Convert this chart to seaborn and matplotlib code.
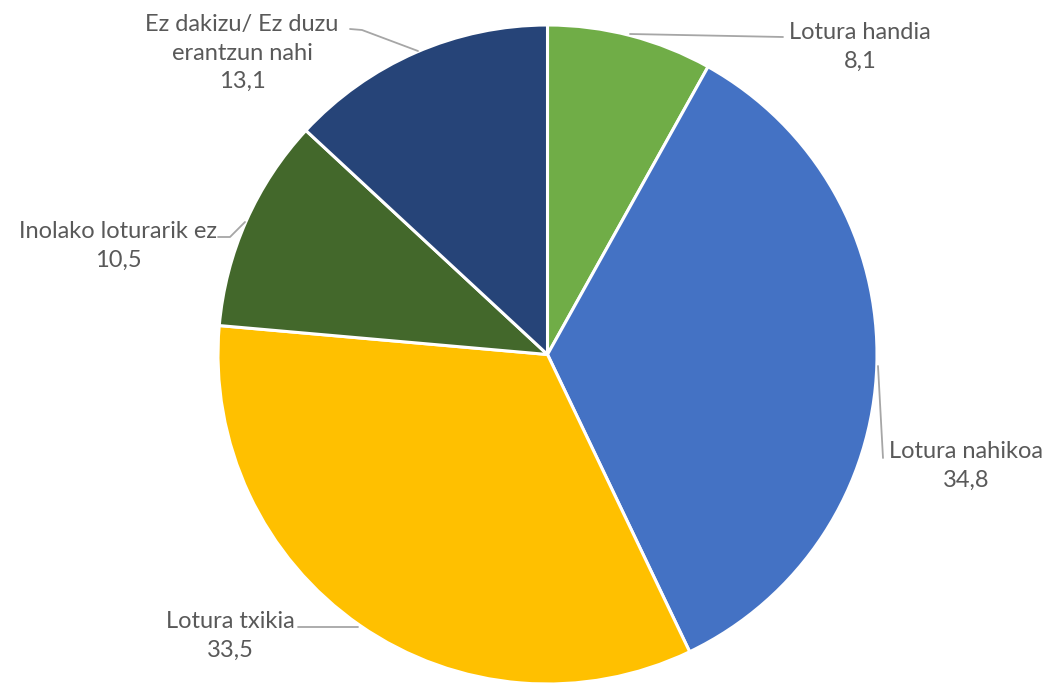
import matplotlib
matplotlib.use("Agg")
import matplotlib.pyplot as plt
import seaborn as sns

categories = ["Lotura handia", "Lotura nahikoa", "Lotura txikia",
              "Inolako loturarik ez", "Ez dakizu/ Ez duzu\nerantzun nahi"]
values = [8.1, 34.8, 33.5, 10.5, 13.1]
value_labels = ["8,1", "34,8", "33,5", "10,5", "13,1"]
colors = ["#70AD47", "#4472C4", "#FFC000", "#43682B", "#264478"]

sns.set_theme(style="white")
plt.rcParams['font.family'] = ['Lato', 'DejaVu Sans']

W, H = 1048, 683
fig = plt.figure(figsize=(W / 100, H / 100), dpi=100)
ax = fig.add_axes([0, 0, 1, 1])
ax.set_xlim(0, W)
ax.set_ylim(0, H)
ax.set_aspect("equal")
ax.axis("off")

cx, cy, r = 547.5, 354.5, 329.5
ax.pie(values, colors=colors, startangle=90, counterclock=False,
       center=(cx, H - cy), radius=r,
       wedgeprops=dict(edgecolor="white", linewidth=2.2), frame=True)
ax.set_xlim(0, W)
ax.set_ylim(0, H)
ax.axis("off")

def Y(y):
    return H - y

# label text positions (pixel coords, center) and leader lines
label_pos = [(860, 47), (966, 466), (230, 636), (118, 246), (242, 53)]
leaders = [
    [(630, 34), (783, 37)],
    [(878, 366), (883, 458)],
    [(298, 627), (358, 627)],
    [(218, 237), (230, 237), (245, 222)],
    [(350, 29), (362, 30), (418, 51)],
]

txt_color = "#595959"
for cat, vl, (x, y) in zip(categories, value_labels, label_pos):
    ax.text(x, Y(y), f"{cat}\n{vl}", ha="center", va="center",
            fontsize=17, color=txt_color, linespacing=1.45)

for pts in leaders:
    xs = [p[0] for p in pts]
    ys = [Y(p[1]) for p in pts]
    ax.plot(xs, ys, color="#A6A6A6", linewidth=1.3)

fig.savefig("out.png", dpi=100, facecolor="white")
